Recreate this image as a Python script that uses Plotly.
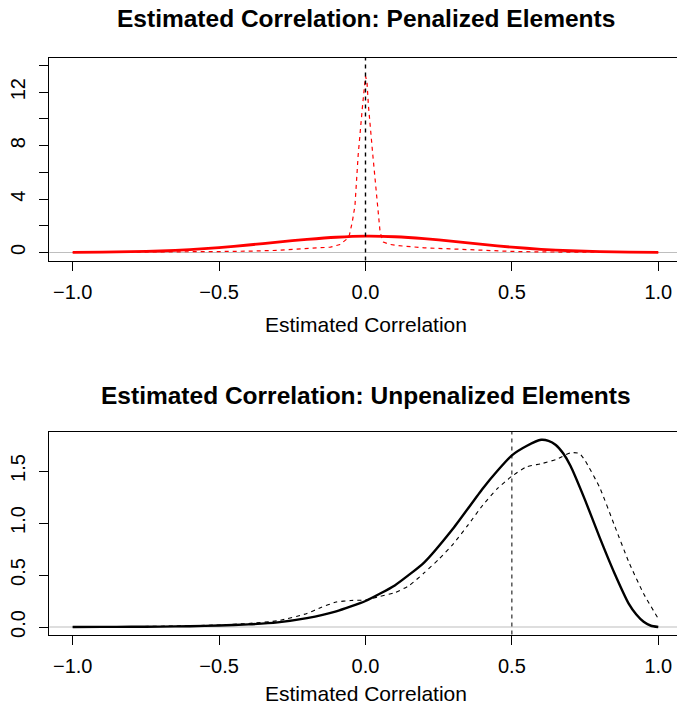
import plotly.graph_objects as go

# ---------------- data ----------------
# Top panel: penalized elements
pen_solid_x = [-1.0, -0.9, -0.8, -0.7, -0.6, -0.5, -0.4, -0.3, -0.2, -0.1, 0.0,
               0.1, 0.2, 0.3, 0.4, 0.5, 0.6, 0.7, 0.8, 0.9, 1.0]
pen_solid_y = [0.01, 0.03, 0.06, 0.11, 0.22, 0.37, 0.56, 0.78, 0.98, 1.14, 1.22,
               1.18, 1.04, 0.83, 0.60, 0.40, 0.24, 0.13, 0.07, 0.03, 0.01]

pen_dash_x = [-1.0, -0.8, -0.6, -0.5, -0.4, -0.3, -0.22, -0.15, -0.12, -0.087, -0.064,
              -0.055, -0.045, -0.036, -0.025, -0.01, -0.003, 0.0, 0.005, 0.01, 0.025,
              0.04, 0.05, 0.061, 0.08, 0.107, 0.15, 0.2, 0.29, 0.4, 0.5, 0.6, 0.7, 0.8, 1.0]
pen_dash_y = [0.0, 0.01, 0.03, 0.07, 0.10, 0.16, 0.27, 0.36, 0.40, 0.60, 1.0,
              1.3, 2.3, 3.5, 7.3, 11.0, 13.0, 13.2, 12.8, 11.0, 7.3,
              3.5, 1.5, 0.78, 0.62, 0.52, 0.42, 0.35, 0.27, 0.15, 0.08, 0.04, 0.02, 0.01, 0.0]

# Bottom panel: unpenalized elements
unpen_solid_x = [-1.0, -0.9, -0.8, -0.7, -0.6, -0.5, -0.4, -0.3, -0.2, -0.1, 0.0,
                 0.1, 0.2, 0.3, 0.4, 0.45, 0.5, 0.55, 0.6, 0.625, 0.65, 0.675, 0.7,
                 0.75, 0.8, 0.85, 0.9, 0.925, 0.95, 0.975, 1.0]
unpen_solid_y = [0.0, 0.001, 0.002, 0.004, 0.008, 0.014, 0.025, 0.045, 0.085, 0.15, 0.25,
                 0.40, 0.62, 0.95, 1.33, 1.50, 1.65, 1.74, 1.80, 1.79, 1.75, 1.67, 1.55,
                 1.22, 0.86, 0.52, 0.22, 0.12, 0.05, 0.012, 0.0]

unpen_dash_x = [-1.0, -0.8, -0.6, -0.5, -0.4, -0.3, -0.2, -0.15, -0.1, -0.05, 0.0,
                0.05, 0.1, 0.15, 0.2, 0.25, 0.3, 0.35, 0.4, 0.45, 0.5,
                0.55, 0.6, 0.65, 0.7, 0.73, 0.75, 0.8, 0.85, 0.9, 0.95, 1.0]
unpen_dash_y = [0.0, 0.004, 0.012, 0.02, 0.034, 0.06, 0.13, 0.19, 0.24, 0.255, 0.26,
                0.295, 0.33, 0.40, 0.52, 0.65, 0.80, 0.98, 1.17, 1.33, 1.45,
                1.54, 1.57, 1.61, 1.675, 1.67, 1.60, 1.34, 0.98, 0.62, 0.32, 0.08]

vline_top = 0.0
vline_bottom = 0.5

x_tickvals = [-1.0, -0.5, 0.0, 0.5, 1.0]
x_ticktext = ["\u22121.0", "\u22120.5", "0.0", "0.5", "1.0"]
top_y_tickvals = [0, 2, 4, 6, 8, 10, 12, 14]
top_y_ticktext = ["0", "", "4", "", "8", "", "12", ""]
bot_y_tickvals = [0.0, 0.5, 1.0, 1.5]
bot_y_ticktext = ["0.0", "0.5", "1.0", "1.5"]

title_top = "Estimated Correlation: Penalized Elements"
title_bottom = "Estimated Correlation: Unpenalized Elements"
xlabel = "Estimated Correlation"

# ---------------- figure ----------------
W, H = 677, 708
FONT = "Liberation Sans, Arial, Helvetica, sans-serif"

fig = go.Figure()

fig.add_trace(go.Scatter(x=pen_solid_x, y=pen_solid_y, mode="lines",
                         line=dict(color="#ff0000", width=2.8, shape="spline", smoothing=0.6),
                         xaxis="x", yaxis="y"))
fig.add_trace(go.Scatter(x=pen_dash_x, y=pen_dash_y, mode="lines",
                         line=dict(color="#ff0000", width=1.2, dash="4px,4px"),
                         xaxis="x", yaxis="y"))
fig.add_trace(go.Scatter(x=unpen_solid_x, y=unpen_solid_y, mode="lines",
                         line=dict(color="#000000", width=2.4, shape="spline", smoothing=0.5),
                         xaxis="x2", yaxis="y2"))
fig.add_trace(go.Scatter(x=unpen_dash_x, y=unpen_dash_y, mode="lines",
                         line=dict(color="#000000", width=1.1, dash="4px,4px", shape="spline", smoothing=0.5),
                         xaxis="x2", yaxis="y2"))

def px_to_paper_y(p):
    return 1 - p / H

x_dom = [49.3 / W, 1.0]
top_dom = [px_to_paper_y(260.5), px_to_paper_y(57.5)]
bot_dom = [px_to_paper_y(634.5), px_to_paper_y(432.0)]

xr = [-1.0799, 1.0639]

axis_common = dict(showline=True, linecolor="#000000", linewidth=1,
                   ticks="outside", ticklen=9, tickcolor="#000000", tickwidth=1,
                   showgrid=False, zeroline=False, automargin=False,
                   tickfont=dict(family=FONT, size=20, color="#000000"))

fig.update_layout(
    width=W, height=H,
    margin=dict(l=0, r=0, t=0, b=0, autoexpand=False),
    paper_bgcolor="white", plot_bgcolor="white",
    showlegend=False,
    xaxis=dict(domain=x_dom, range=xr, anchor="y", mirror=True,
               tickvals=x_tickvals, ticktext=x_ticktext, ticklabelstandoff=4, **axis_common),
    yaxis=dict(domain=top_dom, range=[-0.6, 14.6], anchor="x", mirror=False,
               tickvals=top_y_tickvals, ticktext=top_y_ticktext, tickangle=-90,
               ticklabelstandoff=6, **axis_common),
    xaxis2=dict(domain=x_dom, range=xr, anchor="y2", mirror=True,
                tickvals=x_tickvals, ticktext=x_ticktext, ticklabelstandoff=4, **axis_common),
    yaxis2=dict(domain=bot_dom, range=[-0.072, 1.875], anchor="x2", mirror=False,
                tickvals=bot_y_tickvals, ticktext=bot_y_ticktext, tickangle=-90,
                ticklabelstandoff=6, **axis_common),
)

shapes = []
# gray zero lines
for xa, ya in (("x", "y"), ("x2", "y2")):
    shapes.append(dict(type="line", xref=f"{xa} domain", yref=ya, x0=0, x1=1, y0=0, y1=0,
                       line=dict(color="#bebebe", width=1.2), layer="below"))
# vertical reference lines
shapes.append(dict(type="line", xref="x", yref="y domain", x0=vline_top, x1=vline_top, y0=0, y1=1,
                   line=dict(color="#000000", width=1.4, dash="4px,4px"), layer="above"))
shapes.append(dict(type="line", xref="x2", yref="y2 domain", x0=vline_bottom, x1=vline_bottom, y0=0, y1=1,
                   line=dict(color="#000000", width=1.0, dash="4px,4px"), layer="above"))
fig.update_layout(shapes=shapes)

cx = 366 / W
ann = []
ann.append(dict(text=f"<b>{title_top}</b>", x=cx, y=px_to_paper_y(18), xref="paper", yref="paper",
                xanchor="center", yanchor="middle", showarrow=False,
                font=dict(family=FONT, size=24.5, color="#000000")))
ann.append(dict(text=f"<b>{title_bottom}</b>", x=cx, y=px_to_paper_y(395), xref="paper", yref="paper",
                xanchor="center", yanchor="middle", showarrow=False,
                font=dict(family=FONT, size=24.5, color="#000000")))
ann.append(dict(text=xlabel, x=cx, y=px_to_paper_y(324), xref="paper", yref="paper",
                xanchor="center", yanchor="middle", showarrow=False,
                font=dict(family=FONT, size=21, color="#000000")))
ann.append(dict(text=xlabel, x=cx, y=px_to_paper_y(693), xref="paper", yref="paper",
                xanchor="center", yanchor="middle", showarrow=False,
                font=dict(family=FONT, size=21, color="#000000")))
fig.update_layout(annotations=ann)

fig.write_html("out.html",
               config={"displayModeBar": False, "staticPlot": True},
               post_script="document.body.style.margin='0';document.body.style.overflow='hidden';")
